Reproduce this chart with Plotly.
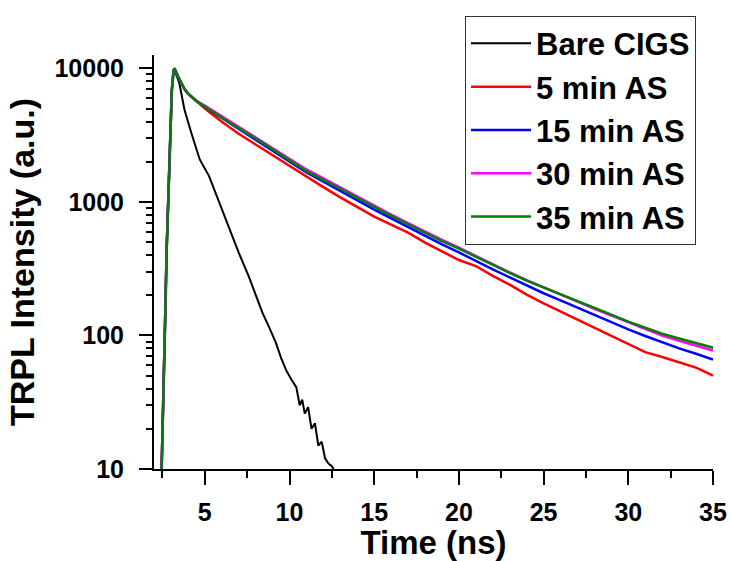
import plotly.graph_objects as go

# ---- data ----
rise_t = [2.45, 2.55, 2.65, 2.75, 2.85, 2.95, 3.05, 3.15]
rise_i = [10, 30, 120, 450, 1300, 3500, 6800, 9500]

bare_t = [3.2, 3.5, 3.8, 4.2, 4.7, 5.25, 5.85, 6.45, 7.0, 7.6, 8.0, 8.4, 8.8, 9.2,
          9.5, 9.8, 10.1, 10.4, 10.6, 10.75, 10.9, 11.1, 11.3, 11.5, 11.7, 11.9,
          12.1, 12.3, 12.5, 12.6]
bare_i = [9800, 7700, 4900, 3300, 2080, 1560, 985, 620, 417, 276, 205, 148, 115, 88,
          68, 55, 47, 41, 30, 33, 26, 29, 20, 22, 15, 16, 12, 11, 10.5, 10]

early_t = [3.2, 3.4, 3.6, 3.8, 4.0, 4.5]
early_i = [10000, 8800, 7800, 7000, 6500, 5700]

decay_t = [5, 6, 7, 8, 9, 10, 11, 12, 13, 14, 15, 16, 17, 18, 19, 20,
           21, 22, 23, 24, 25, 26, 27, 28, 29, 30, 31, 32, 33, 34, 35]

as5_i = [5010, 3980, 3240, 2690, 2240, 1840, 1550, 1290, 1080, 912, 776, 676, 589,
         495, 427, 367, 331, 279, 240, 202, 174, 151, 132, 115, 100, 86, 75, 69,
         63, 57.5, 50]
as15_i = [5130, 4250, 3530, 2950, 2440, 2000, 1660, 1420, 1210, 1020, 875, 752, 646,
          556, 481, 419, 361, 313, 272, 236, 207, 183, 161, 142, 125, 111, 99, 89,
          80, 73, 66]
as30_i = [5270, 4390, 3660, 3070, 2550, 2100, 1750, 1500, 1280, 1090, 933, 805, 693,
          598, 519, 454, 393, 341, 296, 259, 228, 202, 179, 158, 141, 125, 111, 100,
          91, 84, 77]
as35_i = [5150, 4270, 3560, 2990, 2480, 2040, 1700, 1460, 1250, 1060, 910, 787, 679,
          586, 509, 447, 387, 337, 294, 257, 228, 202, 180, 160, 143, 127, 114, 103,
          95, 87.5, 81]

names = ["Bare CIGS", "5 min AS", "15 min AS", "30 min AS", "35 min AS"]
colors = ["#000000", "#FF0000", "#0000FF", "#FF00FF", "#008000"]

y_tickvals = [10, 100, 1000, 10000]
y_ticktext = ["10", "100", "1000", "10000"]
x_tickvals = [5, 10, 15, 20, 25, 30, 35]

# ---- build figure ----
series = [
    (rise_t + bare_t, rise_i + bare_i),
    (rise_t + early_t + decay_t, rise_i + early_i + as5_i),
    (rise_t + early_t + decay_t, rise_i + early_i + as15_i),
    (rise_t + early_t + decay_t, rise_i + early_i + as30_i),
    (rise_t + early_t + decay_t, rise_i + early_i + as35_i),
]
widths = [2, 2.5, 2.5, 2.5, 2.5]

fig = go.Figure()
for (t, v), n, c, w in zip(series, names, colors, widths):
    fig.add_trace(go.Scatter(x=t, y=v, mode="lines", name=n,
                             line=dict(color=c, width=w)))

minor_y = [d * 10 ** e for e in range(1, 4) for d in range(2, 10)]

bold = dict(family="Liberation Sans, Arial, sans-serif", color="black", weight="bold")

fig.update_layout(
    width=730, height=561,
    margin=dict(l=154, r=17, t=55, b=92, autoexpand=False),
    paper_bgcolor="white", plot_bgcolor="white",
    showlegend=True,
    legend=dict(
        xref="container", yref="container",
        x=0.637, y=0.972, xanchor="left", yanchor="top",
        bgcolor="white", bordercolor="#333333", borderwidth=1,
        font=dict(size=31, **bold),
        itemwidth=60, tracegroupgap=0,
    ),
)

fig.update_xaxes(
    range=[2, 35], showgrid=False, zeroline=False,
    showline=True, linecolor="black", linewidth=2, mirror=False,
    ticks="outside", ticklen=14, tickwidth=2, tickcolor="black",
    tickvals=x_tickvals, ticklabelstandoff=6,
    tickfont=dict(size=25, **bold),
    minor=dict(ticks="outside", ticklen=7, tickwidth=2, tickcolor="black",
               tickvals=[2.5, 7.5, 12.5, 17.5, 22.5, 27.5, 32.5]),
    title=dict(text="Time (ns)", font=dict(size=33, **bold), standoff=8),
)

fig.update_yaxes(
    type="log", range=[1, 4.1], showgrid=False, zeroline=False,
    showline=True, linecolor="black", linewidth=2, mirror=False,
    ticks="outside", ticklen=13, tickwidth=2, tickcolor="black",
    tickvals=y_tickvals, ticktext=y_ticktext, ticklabelstandoff=10,
    tickfont=dict(size=25, **bold),
    minor=dict(ticks="outside", ticklen=6, tickwidth=2, tickcolor="black",
               tickvals=minor_y),
    title=dict(text="TRPL Intensity (a.u.)", font=dict(size=34, **bold), standoff=10),
)

fig.write_html("out.html")
